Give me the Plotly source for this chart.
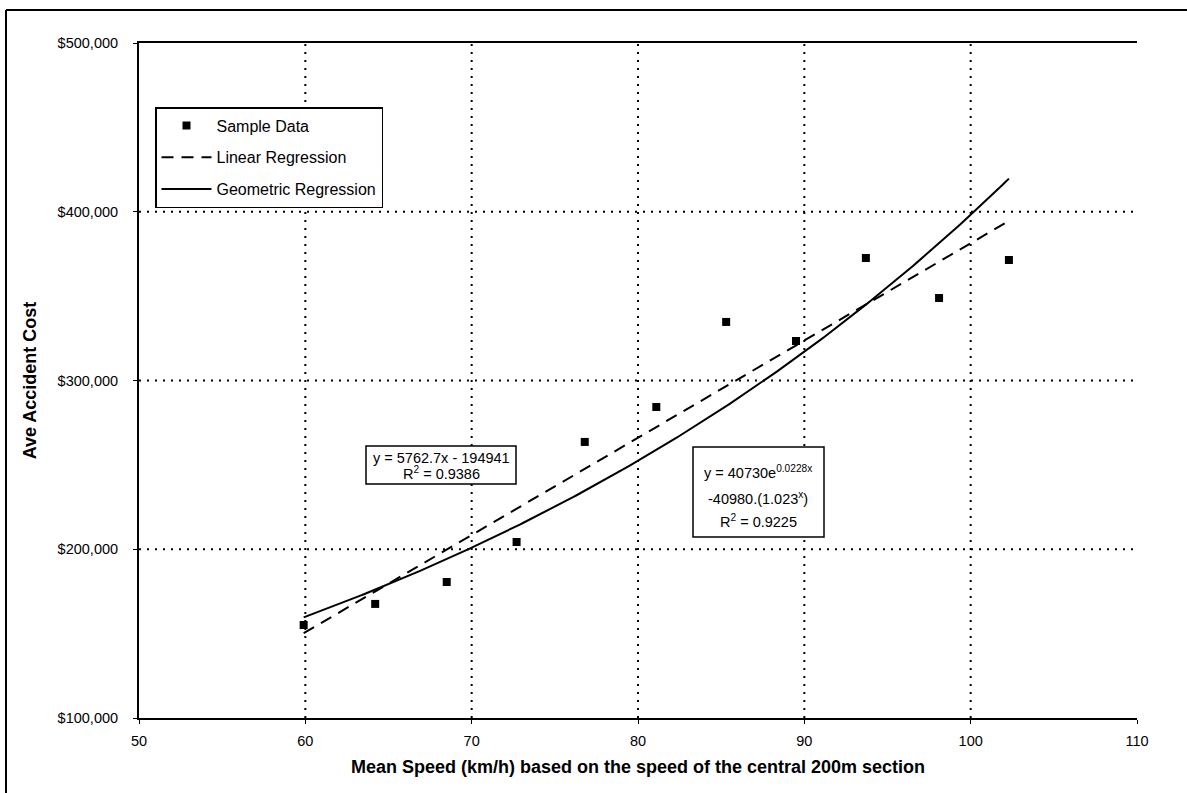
import numpy as np
import plotly.graph_objects as go

# Sample data: mean speed (km/h) vs average accident cost ($)
speed = [59.9, 64.2, 68.5, 72.7, 76.8, 81.1, 85.3, 89.5, 93.7, 98.1, 102.3]
cost = [155100, 167600, 180600, 204300, 263600, 284300, 334700, 323400, 372600, 348900, 371400]

# Regression coefficients as printed on the chart
lin_slope, lin_intercept = 5762.7, -194941
geo_a, geo_b = 40730, 0.0228

x_ticks = [50, 60, 70, 80, 90, 100, 110]
y_ticks = [100000, 200000, 300000, 400000, 500000]
y_tick_text = ["$100,000", "$200,000", "$300,000", "$400,000", "$500,000"]

FONT = "Liberation Sans, Arial, sans-serif"

xs = np.linspace(min(speed), max(speed), 200)
lin_y = lin_slope * xs + lin_intercept
geo_y = geo_a * np.exp(geo_b * xs)

fig = go.Figure()
fig.add_trace(go.Scatter(
    x=speed, y=cost, mode="markers", name="Sample Data",
    marker=dict(symbol="square", size=8, color="black"),
    legendgroup="a",
))
fig.add_trace(go.Scatter(
    x=xs, y=lin_y, mode="lines", name="Linear Regression",
    line=dict(color="black", width=2, dash="12px,8px"),
    legendgroup="b",
))
fig.add_trace(go.Scatter(
    x=xs, y=geo_y, mode="lines", name="Geometric Regression",
    line=dict(color="black", width=2),
    legendgroup="c",
))

# plot-area geometry in pixels
W, H = 1187, 793
L, R, T, B = 139, 1137, 43, 718
def px(x):
    return (x - L) / (R - L)
def py(y):
    return (B - y) / (B - T)

fig.update_layout(
    width=W, height=H,
    margin=dict(l=L, r=W - R, t=T, b=H - B),
    paper_bgcolor="white", plot_bgcolor="white",
    font=dict(family=FONT, color="black", size=14),
    showlegend=True,
    legend=dict(
        x=px(155), y=py(107), xanchor="left", yanchor="top",
        bgcolor="white", bordercolor="black", borderwidth=1.5,
        font=dict(size=16, family=FONT),
        traceorder="grouped", tracegroupgap=8,
        itemwidth=50,
    ),
    xaxis=dict(
        range=[50, 110], tickvals=x_ticks,
        showline=True, linecolor="black", linewidth=2, mirror=True,
        showgrid=False, zeroline=False,
        ticks="outside", ticklen=4, tickcolor="black",
        ticklabelstandoff=5,
        tickfont=dict(size=14.5, family=FONT),
        title=dict(text="<b>Mean Speed (km/h) based on the speed of the central 200m section</b>",
                   font=dict(size=18, family=FONT), standoff=12),
    ),
    yaxis=dict(
        range=[100000, 500000], tickvals=y_ticks, ticktext=y_tick_text,
        showline=True, linecolor="black", linewidth=2, mirror=False,
        showgrid=False, zeroline=False,
        ticks="outside", ticklen=4, tickcolor="black",
        ticklabelstandoff=12,
        tickfont=dict(size=14.5, family=FONT),
        title=dict(text="<b>Ave Accident Cost</b>", font=dict(size=18, family=FONT), standoff=16),
    ),
)

# dotted grid lines at interior ticks
for xv in x_ticks[1:-1]:
    fig.add_shape(type="line", xref="x", yref="y", x0=xv, x1=xv, y0=100000, y1=500000,
                  line=dict(color="black", width=2, dash="2px,6px"), layer="below")
for yv in y_ticks[1:-1]:
    fig.add_shape(type="line", xref="x", yref="y", x0=50, x1=110, y0=yv, y1=yv,
                  line=dict(color="black", width=2, dash="2px,6px"), layer="below")

# outer frame lines
fig.add_shape(type="line", xref="paper", yref="paper", x0=px(6), x1=px(1187), y0=py(10), y1=py(10),
              line=dict(color="black", width=2))
fig.add_shape(type="line", xref="paper", yref="paper", x0=px(6), x1=px(6), y0=py(10), y1=py(793),
              line=dict(color="black", width=2))


def text_box(x0, y0, x1, y1, lines, centre_x, line_ys):
    fig.add_shape(type="rect", xref="paper", yref="paper",
                  x0=px(x0), x1=px(x1), y0=py(y0), y1=py(y1),
                  line=dict(color="black", width=1.5), fillcolor="white", layer="above")
    for txt, ly in zip(lines, line_ys):
        fig.add_annotation(xref="paper", yref="paper", x=px(centre_x), y=py(ly),
                           xanchor="center", yanchor="middle", text=txt, showarrow=False,
                           font=dict(size=14.5, family=FONT))


# regression equation boxes
text_box(366, 446, 516, 484,
         ["y = 5762.7x - 194941", "R<sup>2</sup> = 0.9386"], 441, [458, 473])
text_box(693, 447, 824, 537,
         ["y = 40730e<sup>0.0228x</sup>", "-40980.(1.023<sup>x</sup>)", "R<sup>2</sup> = 0.9225"],
         758, [472, 498, 521])

fig.write_html("out.html")
